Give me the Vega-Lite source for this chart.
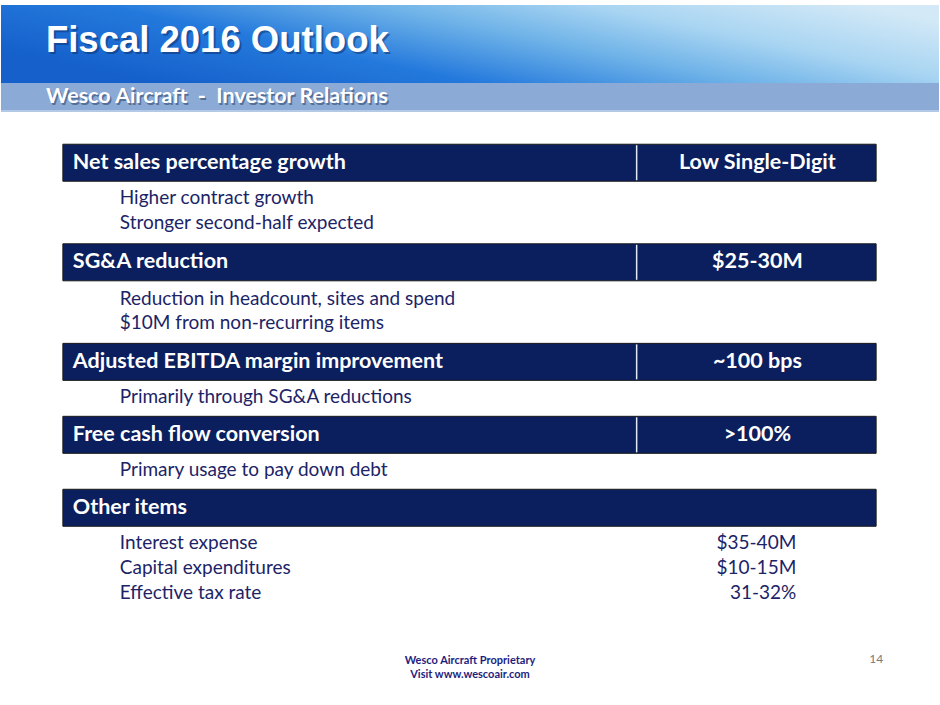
{
  "$schema": "https://vega.github.io/schema/vega-lite/v6.json",
  "width": 940,
  "height": 705,
  "padding": 0,
  "autosize": {"type": "fit", "contains": "padding"},
  "background": "white",
  "config": {"view": {"stroke": null}},
  "datasets": {
    "headers": [
      {"label": "Net sales percentage growth", "value": "Low Single-Digit", "line": 0},
      {"label": "SG&A reduction", "value": "$25-30M", "line": 4.04},
      {"label": "Adjusted EBITDA margin improvement", "value": "~100 bps", "line": 8.08},
      {"label": "Free cash flow conversion", "value": ">100%", "line": 11.04},
      {"label": "Other items", "value": "", "line": 14}
    ],
    "details": [
      {"text": "Higher contract growth", "value": "", "line": 1.44},
      {"text": "Stronger second-half expected", "value": "", "line": 2.44},
      {"text": "Reduction in headcount, sites and spend", "value": "", "line": 5.52},
      {"text": "$10M from non-recurring items", "value": "", "line": 6.52},
      {"text": "Primarily through SG&A reductions", "value": "", "line": 9.52},
      {"text": "Primary usage to pay down debt", "value": "", "line": 12.48},
      {"text": "Interest expense", "value": "$35-40M", "line": 15.44},
      {"text": "Capital expenditures", "value": "$10-15M", "line": 16.44},
      {"text": "Effective tax rate", "value": "31-32%", "line": 17.44}
    ]
  },
  "layer": [
    {
      "data": {"values": [{"part": "banner"}]},
      "mark": {"type": "rect", "color": {"gradient": "linear", "x1": 0, "y1": 0.6, "x2": 1, "y2": 0.2, "stops": [
        {"offset": 0, "color": "#1560CB"},
        {"offset": 0.3, "color": "#2479DC"},
        {"offset": 0.55, "color": "#6FB3E8"},
        {"offset": 0.75, "color": "#A9D5F2"},
        {"offset": 1, "color": "#D3E9F7"}
      ]}},
      "encoding": {
        "x": {"datum": 0, "type": "quantitative", "scale": {"domain": [0, 940], "nice": false, "zero": false}, "axis": null},
        "x2": {"datum": 940},
        "y": {"datum": -6.4, "type": "quantitative", "scale": {"domain": [-6.4, 21.8], "nice": false, "zero": false, "reverse": true}, "axis": null},
        "y2": {"datum": -3.24}
      }
    },
    {
      "data": {"values": [{"part": "band"}]},
      "mark": {"type": "rect", "color": "#8BAAD5"},
      "encoding": {
        "x": {"datum": 0, "type": "quantitative", "scale": {"domain": [0, 940], "nice": false, "zero": false}, "axis": null},
        "x2": {"datum": 940},
        "y": {"datum": -3.24, "type": "quantitative", "scale": {"domain": [-6.4, 21.8], "nice": false, "zero": false, "reverse": true}, "axis": null},
        "y2": {"datum": -2.08}
      }
    },
    {
      "data": {"values": [{"part": "bandline"}]},
      "mark": {"type": "rule", "color": "#B3C9E6", "strokeWidth": 2},
      "encoding": {
        "x": {"datum": 0, "type": "quantitative", "scale": {"domain": [0, 940], "nice": false, "zero": false}, "axis": null},
        "x2": {"datum": 940},
        "y": {"datum": -2.1, "type": "quantitative", "scale": {"domain": [-6.4, 21.8], "nice": false, "zero": false, "reverse": true}, "axis": null}
      }
    },
    {
      "data": {"values": [{"t": "Fiscal 2016 Outlook"}]},
      "mark": {"type": "text", "align": "left", "baseline": "middle", "font": "Liberation Sans", "fontWeight": "bold", "fontSize": 36.5, "color": "#0A2E66", "opacity": 0.5, "dx": 2, "dy": 2},
      "encoding": {
        "text": {"field": "t"},
        "x": {"datum": 45, "type": "quantitative", "scale": {"domain": [0, 940], "nice": false, "zero": false}, "axis": null},
        "y": {"datum": -4.95, "type": "quantitative", "scale": {"domain": [-6.4, 21.8], "nice": false, "zero": false, "reverse": true}, "axis": null}
      }
    },
    {
      "data": {"values": [{"t": "Fiscal 2016 Outlook"}]},
      "mark": {"type": "text", "align": "left", "baseline": "middle", "font": "Liberation Sans", "fontWeight": "bold", "fontSize": 36.5, "color": "white"},
      "encoding": {
        "text": {"field": "t"},
        "x": {"datum": 45, "type": "quantitative", "scale": {"domain": [0, 940], "nice": false, "zero": false}, "axis": null},
        "y": {"datum": -4.95, "type": "quantitative", "scale": {"domain": [-6.4, 21.8], "nice": false, "zero": false, "reverse": true}, "axis": null}
      }
    },
    {
      "data": {"values": [{"t": "Wesco Aircraft\u00a0\u00a0-\u00a0\u00a0Investor Relations"}]},
      "mark": {"type": "text", "align": "left", "baseline": "middle", "font": "Lato", "fontWeight": "bold", "fontSize": 21.5, "color": "#2A3F66", "opacity": 0.55, "dx": 1.5, "dy": 1.5},
      "encoding": {
        "text": {"field": "t"},
        "x": {"datum": 45, "type": "quantitative", "scale": {"domain": [0, 940], "nice": false, "zero": false}, "axis": null},
        "y": {"datum": -2.66, "type": "quantitative", "scale": {"domain": [-6.4, 21.8], "nice": false, "zero": false, "reverse": true}, "axis": null}
      }
    },
    {
      "data": {"values": [{"t": "Wesco Aircraft\u00a0\u00a0-\u00a0\u00a0Investor Relations"}]},
      "mark": {"type": "text", "align": "left", "baseline": "middle", "font": "Lato", "fontWeight": "bold", "fontSize": 21.5, "color": "white"},
      "encoding": {
        "text": {"field": "t"},
        "x": {"datum": 45, "type": "quantitative", "scale": {"domain": [0, 940], "nice": false, "zero": false}, "axis": null},
        "y": {"datum": -2.66, "type": "quantitative", "scale": {"domain": [-6.4, 21.8], "nice": false, "zero": false, "reverse": true}, "axis": null}
      }
    },
    {
      "data": {"name": "headers"},
      "mark": {"type": "bar", "orient": "horizontal", "size": 37, "color": "#0B1F5E", "stroke": "#1A1A1A", "strokeWidth": 1},
      "encoding": {
        "x": {"datum": 62, "type": "quantitative", "scale": {"domain": [0, 940], "nice": false, "zero": false}, "axis": null},
        "x2": {"datum": 877},
        "y": {"field": "line", "type": "quantitative", "scale": {"domain": [-6.4, 21.8], "nice": false, "zero": false, "reverse": true}, "axis": null}
      }
    },
    {
      "data": {"name": "headers"},
      "transform": [{"filter": "datum.value != ''"}],
      "mark": {"type": "tick", "orient": "vertical", "size": 35, "thickness": 1.5, "color": "#E6EAF2", "opacity": 1},
      "encoding": {
        "x": {"datum": 637, "type": "quantitative", "scale": {"domain": [0, 940], "nice": false, "zero": false}, "axis": null},
        "y": {"field": "line", "type": "quantitative", "scale": {"domain": [-6.4, 21.8], "nice": false, "zero": false, "reverse": true}, "axis": null}
      }
    },
    {
      "data": {"name": "headers"},
      "mark": {"type": "text", "align": "left", "baseline": "middle", "font": "Lato", "fontWeight": "bold", "fontSize": 21.5, "color": "white"},
      "encoding": {
        "text": {"field": "label"},
        "x": {"datum": 72, "type": "quantitative", "scale": {"domain": [0, 940], "nice": false, "zero": false}, "axis": null},
        "y": {"field": "line", "type": "quantitative", "scale": {"domain": [-6.4, 21.8], "nice": false, "zero": false, "reverse": true}, "axis": null}
      }
    },
    {
      "data": {"name": "headers"},
      "mark": {"type": "text", "align": "center", "baseline": "middle", "font": "Lato", "fontWeight": "bold", "fontSize": 21.5, "color": "white"},
      "encoding": {
        "text": {"field": "value"},
        "x": {"datum": 758, "type": "quantitative", "scale": {"domain": [0, 940], "nice": false, "zero": false}, "axis": null},
        "y": {"field": "line", "type": "quantitative", "scale": {"domain": [-6.4, 21.8], "nice": false, "zero": false, "reverse": true}, "axis": null}
      }
    },
    {
      "data": {"name": "details"},
      "mark": {"type": "text", "align": "left", "baseline": "middle", "font": "Lato", "fontSize": 19, "color": "#1C2467"},
      "encoding": {
        "text": {"field": "text"},
        "x": {"datum": 119, "type": "quantitative", "scale": {"domain": [0, 940], "nice": false, "zero": false}, "axis": null},
        "y": {"field": "line", "type": "quantitative", "scale": {"domain": [-6.4, 21.8], "nice": false, "zero": false, "reverse": true}, "axis": null}
      }
    },
    {
      "data": {"name": "details"},
      "mark": {"type": "text", "align": "right", "baseline": "middle", "font": "Lato", "fontSize": 19, "color": "#1C2467"},
      "encoding": {
        "text": {"field": "value"},
        "x": {"datum": 797, "type": "quantitative", "scale": {"domain": [0, 940], "nice": false, "zero": false}, "axis": null},
        "y": {"field": "line", "type": "quantitative", "scale": {"domain": [-6.4, 21.8], "nice": false, "zero": false, "reverse": true}, "axis": null}
      }
    },
    {
      "data": {"values": [
        {"t": "Wesco Aircraft Proprietary", "line": 20.2},
        {"t": "Visit www.wescoair.com", "line": 20.8}
      ]},
      "mark": {"type": "text", "align": "center", "baseline": "middle", "font": "Lato", "fontWeight": "bold", "fontSize": 11, "color": "#1E1E80"},
      "encoding": {
        "text": {"field": "t"},
        "x": {"datum": 470, "type": "quantitative", "scale": {"domain": [0, 940], "nice": false, "zero": false}, "axis": null},
        "y": {"field": "line", "type": "quantitative", "scale": {"domain": [-6.4, 21.8], "nice": false, "zero": false, "reverse": true}, "axis": null}
      }
    },
    {
      "data": {"values": [{"t": "14", "line": 20.12}]},
      "mark": {"type": "text", "align": "center", "baseline": "middle", "font": "Lato", "fontSize": 12, "color": "#7A7A7A"},
      "encoding": {
        "text": {"field": "t"},
        "x": {"datum": 877, "type": "quantitative", "scale": {"domain": [0, 940], "nice": false, "zero": false}, "axis": null},
        "y": {"field": "line", "type": "quantitative", "scale": {"domain": [-6.4, 21.8], "nice": false, "zero": false, "reverse": true}, "axis": null}
      }
    }
  ]
}
